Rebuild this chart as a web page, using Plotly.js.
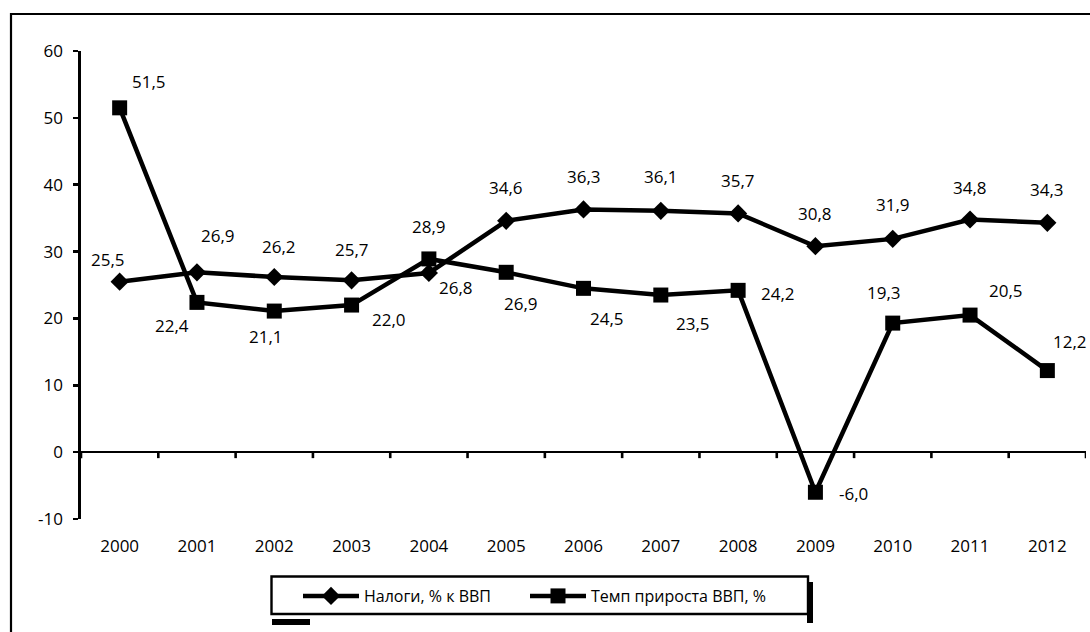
<!DOCTYPE html>
<html>
<head>
<meta charset="utf-8">
<script src="https://cdn.plot.ly/plotly-3.0.1.min.js"></script>
<style>
  html, body { margin: 0; padding: 0; background: #fff; }
  #chart { width: 1090px; height: 632px; }
</style>
</head>
<body>
<div id="chart"></div>
<script>
// Years on the category axis
const years = ['2000', '2001', '2002', '2003', '2004', '2005', '2006',
               '2007', '2008', '2009', '2010', '2011', '2012'];

// Налоги, % к ВВП
const taxes = [25.5, 26.9, 26.2, 25.7, 26.8, 34.6, 36.3, 36.1, 35.7, 30.8, 31.9, 34.8, 34.3];

// Темп прироста ВВП, %
const growth = [51.5, 22.4, 21.1, 22.0, 28.9, 26.9, 24.5, 23.5, 24.2, -6.0, 19.3, 20.5, 12.2];

// Value axis ticks
const yTicks = [-10, 0, 10, 20, 30, 40, 50, 60];

const seriesNames = ['Налоги, % к ВВП', 'Темп прироста ВВП, %'];

// Label placement (pixel shifts right / down from each point)
const taxLabelShift = [[-12, -22], [21, -37], [5, -30], [0, -31], [27, 15], [0, -33], [0, -33],
                       [0, -34], [0, -33], [0, -33], [0, -34], [0, -32], [0, -33]];
const growthLabelShift = [[29, -26], [-25, 23], [-8, 25], [37, 14], [0, -32], [15, 31], [23, 30],
                          [32, 28], [40, 3], [38, 1], [-9, -31], [36, -25], [23, -29]];

const FONT = '"Open Sans", "DejaVu Sans", sans-serif';
const INK = '#000000';

// plot area in pixels, used to place the frame and legend box
const L = 81, R = 1086, T = 51, B = 519;
const px = x => (x - L) / (R - L);
const py = y => (B - y) / (B - T);

const fmt = v => v.toFixed(1).replace('.', ',');

const traces = [
  {
    x: years, y: taxes, name: seriesNames[0], type: 'scatter', mode: 'lines+markers',
    line: { color: INK, width: 4.5 },
    marker: { symbol: 'diamond', size: 14, color: INK },
    legend: 'legend', hoverinfo: 'x+y'
  },
  {
    x: years, y: growth, name: seriesNames[1], type: 'scatter', mode: 'lines+markers',
    line: { color: INK, width: 4.5 },
    marker: { symbol: 'square', size: 15, color: INK },
    legend: 'legend2', hoverinfo: 'x+y'
  }
];

const annotations = [];
function addLabels(values, shifts) {
  values.forEach((v, i) => {
    annotations.push({
      x: i, y: v, xref: 'x', yref: 'y',
      text: fmt(v), showarrow: false,
      xshift: shifts[i][0], yshift: -shifts[i][1],
      font: { family: FONT, size: 17, color: INK }
    });
  });
}
addLabels(taxes, taxLabelShift);
addLabels(growth, growthLabelShift);

const shapes = [
  // outer chart frame (runs off the right and bottom edges)
  { type: 'rect', xref: 'paper', yref: 'paper',
    x0: px(11), x1: px(1110), y0: py(660), y1: py(14),
    line: { color: INK, width: 2.2 }, fillcolor: 'rgba(0,0,0,0)', layer: 'below' },
  // legend box with its shadow pieces
  { type: 'rect', xref: 'paper', yref: 'paper',
    x0: px(807), x1: px(813), y0: py(623), y1: py(582),
    line: { width: 0 }, fillcolor: INK, layer: 'above' },
  { type: 'rect', xref: 'paper', yref: 'paper',
    x0: px(272), x1: px(310), y0: py(625), y1: py(619),
    line: { width: 0 }, fillcolor: INK, layer: 'above' },
  { type: 'rect', xref: 'paper', yref: 'paper',
    x0: px(271.5), x1: px(808), y0: py(614), y1: py(576.5),
    line: { color: INK, width: 2.4 }, fillcolor: '#ffffff', layer: 'above' }
];

// category boundary ticks hanging below the zero line
for (let i = 0; i <= years.length; i++) {
  shapes.push({
    type: 'line', xref: 'x', yref: 'y', ysizemode: 'pixel', yanchor: 0,
    x0: i - 0.5, x1: i - 0.5, y0: 0, y1: -6,
    line: { color: INK, width: 2.6 }, layer: 'above'
  });
}

const legendStyle = {
  orientation: 'h', xanchor: 'left', yanchor: 'middle', y: py(596),
  bgcolor: 'rgba(0,0,0,0)', borderwidth: 0,
  font: { family: FONT, size: 16, color: INK },
  itemwidth: 56, itemclick: false
};

const layout = {
  width: 1090, height: 632,
  margin: { l: L, r: 1090 - R, t: T, b: 632 - B, pad: 0 },
  paper_bgcolor: '#ffffff', plot_bgcolor: 'rgba(0,0,0,0)',
  font: { family: FONT, size: 17, color: INK },
  showlegend: true,
  legend: Object.assign({}, legendStyle, { x: px(298) }),
  legend2: Object.assign({}, legendStyle, { x: px(525) }),
  xaxis: {
    type: 'category', range: [-0.5, 12.5], fixedrange: true,
    showline: false, showgrid: false, zeroline: false, ticks: '',
    ticklabelstandoff: 15,
    tickfont: { family: FONT, size: 17, color: INK }
  },
  yaxis: {
    range: [-10, 60], fixedrange: true,
    tickmode: 'array', tickvals: yTicks, ticktext: yTicks.map(v => String(v)),
    showline: true, linecolor: INK, linewidth: 2.6,
    ticks: 'outside', ticklen: 5, tickwidth: 2.6, tickcolor: INK,
    ticklabelstandoff: 7,
    showgrid: false,
    zeroline: true, zerolinecolor: INK, zerolinewidth: 2.6,
    tickfont: { family: FONT, size: 17, color: INK }
  },
  annotations: annotations,
  shapes: shapes
};

Plotly.newPlot('chart', traces, layout, { displayModeBar: false, staticPlot: true });
</script>
</body>
</html>
